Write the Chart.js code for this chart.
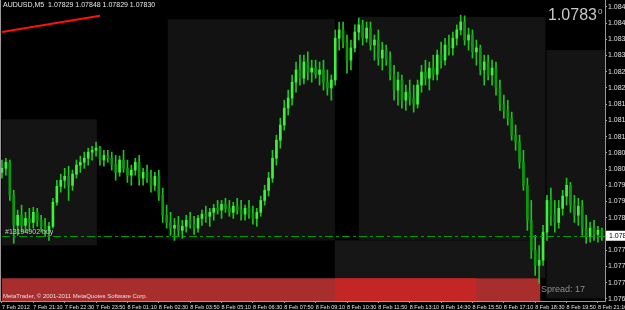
<!DOCTYPE html>
<html lang="en">
<head>
<meta charset="UTF-8">
<title>AUDUSD,M5</title>
<style>
    body {
        margin: 0;
        background: #000;
    }

    #wrap {
        width: 625px;
        height: 310px;
        position: relative;
    }
</style>
</head>
<body>
<div id="wrap"><canvas id="chart"></canvas></div>
<script src="https://cdn.jsdelivr.net/npm/chart.js"></script>
<script>
    const headerText = "AUDUSD,M5  1.07829 1.07848 1.07829 1.07830";
    const bidText = "1.0783";
    const copyrightText = "MetaTrader, \u00a9 2001-2011 MetaQuotes Software Corp.";
    const spreadText = "Spread: 17";
    const orderText = "#13194902 buy";

    // M10-style bars (bar index = position on the time axis)
    const opens = [
        1.08006, 1.08017, 1.08034, 1.07942, 1.07859, 1.07887, 1.07859, 1.07878, 1.07867, 1.07895,
        1.07873, 1.07856, 1.07845, 1.07856, 1.07923, 1.07967, 1.07984, 1.07995, 1.07970, 1.08001,
        1.08026, 1.08034, 1.08045, 1.08062, 1.08067, 1.08073, 1.08040, 1.08053, 1.08045, 1.08028,
        1.08006, 1.08040, 1.08017, 1.07998, 1.08012, 1.08034, 1.07990, 1.08006, 1.07990, 1.07970,
        1.07995, 1.07942, 1.07887, 1.07867, 1.07851, 1.07859, 1.07845, 1.07856, 1.07873, 1.07862,
        1.07851, 1.07878, 1.07890, 1.07884, 1.07895, 1.07906, 1.07901, 1.07917, 1.07906, 1.07895,
        1.07912, 1.07901, 1.07890, 1.07906, 1.07890, 1.07878, 1.07895, 1.07928, 1.07956, 1.07990,
        1.08045, 1.08095, 1.08137, 1.08184, 1.08212, 1.08256, 1.08290, 1.08267, 1.08312, 1.08284,
        1.08295, 1.08278, 1.08290, 1.08256, 1.08240, 1.08262, 1.08378, 1.08401, 1.08367, 1.08317,
        1.08351, 1.08395, 1.08415, 1.08378, 1.08406, 1.08359, 1.08373, 1.08323, 1.08345, 1.08317,
        1.08276, 1.08234, 1.08262, 1.08206, 1.08228, 1.08212, 1.08195, 1.08248, 1.08284, 1.08267,
        1.08295, 1.08278, 1.08331, 1.08317, 1.08359, 1.08351, 1.08378, 1.08401, 1.08423, 1.08373,
        1.08387, 1.08340, 1.08351, 1.08290, 1.08312, 1.08276, 1.08295, 1.08240, 1.08195, 1.08178,
        1.08156, 1.08109, 1.08090, 1.08034, 1.07970, 1.07873, 1.07790, 1.07748, 1.07762, 1.07840,
        1.07928, 1.07887, 1.07867, 1.07906, 1.07940, 1.07970, 1.07915, 1.07887, 1.07912, 1.07851,
        1.07828, 1.07851, 1.07834, 1.07845
    ];
    const highs = [
        1.08040, 1.08045, 1.08040, 1.07956, 1.07901, 1.07915, 1.07895, 1.07906, 1.07909, 1.07906,
        1.07887, 1.07878, 1.07867, 1.07934, 1.07984, 1.08001, 1.08017, 1.08023, 1.08012, 1.08040,
        1.08051, 1.08062, 1.08073, 1.08078, 1.08090, 1.08078, 1.08067, 1.08067, 1.08062, 1.08053,
        1.08051, 1.08067, 1.08040, 1.08026, 1.08045, 1.08053, 1.08017, 1.08026, 1.08012, 1.08006,
        1.08012, 1.07962, 1.07915, 1.07895, 1.07878, 1.07884, 1.07873, 1.07887, 1.07895, 1.07884,
        1.07887, 1.07901, 1.07912, 1.07906, 1.07917, 1.07928, 1.07928, 1.07934, 1.07928, 1.07923,
        1.07934, 1.07928, 1.07915, 1.07928, 1.07912, 1.07906, 1.07940, 1.07970, 1.08006, 1.08067,
        1.08109, 1.08156, 1.08206, 1.08234, 1.08276, 1.08312, 1.08331, 1.08331, 1.08340, 1.08317,
        1.08317, 1.08312, 1.08317, 1.08290, 1.08276, 1.08401, 1.08423, 1.08423, 1.08387, 1.08373,
        1.08415, 1.08434, 1.08428, 1.08423, 1.08423, 1.08387, 1.08401, 1.08367, 1.08359, 1.08340,
        1.08303, 1.08284, 1.08276, 1.08248, 1.08262, 1.08248, 1.08262, 1.08303, 1.08317, 1.08312,
        1.08331, 1.08345, 1.08367, 1.08378, 1.08387, 1.08395, 1.08415, 1.08442, 1.08440, 1.08406,
        1.08401, 1.08373, 1.08359, 1.08331, 1.08331, 1.08317, 1.08312, 1.08262, 1.08220, 1.08206,
        1.08173, 1.08137, 1.08109, 1.08067, 1.07990, 1.07928, 1.07831, 1.07803, 1.07859, 1.07942,
        1.07962, 1.07928, 1.07928, 1.07956, 1.07990, 1.07978, 1.07942, 1.07934, 1.07928, 1.07887,
        1.07867, 1.07873, 1.07856, 1.07851
    ];
    const lows = [
        1.07990, 1.07998, 1.07928, 1.07809, 1.07831, 1.07840, 1.07840, 1.07845, 1.07851, 1.07856,
        1.07840, 1.07828, 1.07817, 1.07851, 1.07915, 1.07951, 1.07962, 1.07928, 1.07956, 1.07990,
        1.08006, 1.08017, 1.08026, 1.08040, 1.08051, 1.08026, 1.08023, 1.08034, 1.08012, 1.07984,
        1.07995, 1.08006, 1.07978, 1.07970, 1.07998, 1.07970, 1.07970, 1.07978, 1.07951, 1.07956,
        1.07928, 1.07867, 1.07851, 1.07831, 1.07817, 1.07828, 1.07823, 1.07840, 1.07851, 1.07834,
        1.07840, 1.07859, 1.07867, 1.07856, 1.07873, 1.07890, 1.07878, 1.07895, 1.07884, 1.07878,
        1.07890, 1.07873, 1.07873, 1.07878, 1.07862, 1.07856, 1.07884, 1.07915, 1.07940, 1.07978,
        1.08026, 1.08073, 1.08123, 1.08165, 1.08192, 1.08228, 1.08248, 1.08251, 1.08262, 1.08256,
        1.08267, 1.08248, 1.08234, 1.08220, 1.08206, 1.08248, 1.08345, 1.08351, 1.08281, 1.08290,
        1.08340, 1.08373, 1.08359, 1.08367, 1.08345, 1.08317, 1.08303, 1.08290, 1.08303, 1.08262,
        1.08206, 1.08192, 1.08184, 1.08178, 1.08192, 1.08173, 1.08184, 1.08228, 1.08248, 1.08234,
        1.08262, 1.08262, 1.08295, 1.08303, 1.08331, 1.08331, 1.08359, 1.08387, 1.08359, 1.08345,
        1.08323, 1.08303, 1.08276, 1.08248, 1.08262, 1.08248, 1.08220, 1.08178, 1.08156, 1.08137,
        1.08095, 1.08067, 1.08017, 1.07956, 1.07845, 1.07767, 1.07720, 1.07698, 1.07748, 1.07817,
        1.07859, 1.07840, 1.07851, 1.07887, 1.07915, 1.07895, 1.07867, 1.07859, 1.07831, 1.07809,
        1.07812, 1.07817, 1.07812, 1.07817
    ];
    const closes = [
        1.08017, 1.08034, 1.07942, 1.07859, 1.07887, 1.07859, 1.07878, 1.07867, 1.07895, 1.07873,
        1.07856, 1.07845, 1.07856, 1.07923, 1.07967, 1.07984, 1.07995, 1.07970, 1.08001, 1.08026,
        1.08034, 1.08045, 1.08062, 1.08067, 1.08073, 1.08040, 1.08053, 1.08045, 1.08028, 1.08006,
        1.08040, 1.08017, 1.07998, 1.08012, 1.08034, 1.07990, 1.08006, 1.07990, 1.07970, 1.07995,
        1.07942, 1.07887, 1.07867, 1.07851, 1.07859, 1.07845, 1.07856, 1.07873, 1.07862, 1.07851,
        1.07878, 1.07890, 1.07884, 1.07895, 1.07906, 1.07901, 1.07917, 1.07906, 1.07895, 1.07912,
        1.07901, 1.07890, 1.07906, 1.07890, 1.07878, 1.07895, 1.07928, 1.07956, 1.07990, 1.08045,
        1.08095, 1.08137, 1.08184, 1.08212, 1.08256, 1.08290, 1.08267, 1.08312, 1.08284, 1.08295,
        1.08278, 1.08290, 1.08256, 1.08240, 1.08262, 1.08378, 1.08401, 1.08367, 1.08317, 1.08351,
        1.08395, 1.08415, 1.08378, 1.08406, 1.08359, 1.08373, 1.08323, 1.08345, 1.08317, 1.08276,
        1.08234, 1.08262, 1.08206, 1.08228, 1.08212, 1.08195, 1.08248, 1.08284, 1.08267, 1.08295,
        1.08278, 1.08331, 1.08317, 1.08359, 1.08351, 1.08378, 1.08401, 1.08423, 1.08373, 1.08387,
        1.08340, 1.08351, 1.08290, 1.08312, 1.08276, 1.08295, 1.08240, 1.08195, 1.08178, 1.08156,
        1.08109, 1.08090, 1.08034, 1.07970, 1.07873, 1.07790, 1.07748, 1.07762, 1.07840, 1.07928,
        1.07887, 1.07867, 1.07906, 1.07940, 1.07970, 1.07915, 1.07887, 1.07912, 1.07851, 1.07828,
        1.07851, 1.07834, 1.07845, 1.07830
    ];

    const priceTicks = [
        1.07655, 1.07700, 1.07745, 1.07790, 1.07835, 1.07880, 1.07925, 1.07970, 1.08015, 1.08060,
        1.08105, 1.08150, 1.08195, 1.08240, 1.08285, 1.08330, 1.08375, 1.08420, 1.08465
    ];
    const timeTickBars = [0, 8, 16, 24, 32, 40, 48, 56, 64, 72, 80, 88, 96, 104, 112, 120, 128, 136, 144, 152];
    const timeLabels = [
        "7 Feb 2012", "7 Feb 21:10", "7 Feb 22:30", "7 Feb 23:50", "8 Feb 01:10", "8 Feb 02:30",
        "8 Feb 03:50", "8 Feb 05:10", "8 Feb 06:30", "8 Feb 07:50", "8 Feb 09:10", "8 Feb 10:30",
        "8 Feb 11:50", "8 Feb 13:10", "8 Feb 14:30", "8 Feb 15:50", "8 Feb 17:10", "8 Feb 18:30",
        "8 Feb 19:50", "8 Feb 21:10"
    ];

    const trendBars = [0, 25];
    const trendPrices = [1.08395, 1.08440];
    const orderPrice = 1.07828;
    const bidPrice = 1.07830;

    // session boxes: from bar, to bar, top price, bottom price
    const boxFrom = [0, 42.3, 91.0, 84.9, 138.9, 0, 84.9];
    const boxTo = [24.2, 84.9, 138.6, 138.6, 155, 137.3, 121.0];
    const boxTop = [1.08153, 1.08431, 1.08437, 1.07817, 1.08345, 1.07712, 1.07712];
    const boxBottom = [1.07803, 1.07817, 1.07817, 1.07712, 1.07656, 1.07600, 1.07600];
    const boxColors = ['#141414', '#121212', '#141414', '#161616', '#141414', '#a82d2d', '#c42626'];

    const axisFont = { family: '"Liberation Sans"', size: 7 };
    const timeFont = { family: '"Liberation Sans"', size: 5.5 };

    const backdrop = {
        id: 'backdrop',
        beforeDatasetsDraw(chart) {
            const { ctx, chartArea: a, scales: { x, y } } = chart;
            ctx.save();
            ctx.beginPath();
            ctx.rect(a.left, a.top, a.right - a.left, a.bottom - a.top);
            ctx.clip();
            for (let i = 0; i < boxFrom.length; i++) {
                const x0 = x.getPixelForValue(boxFrom[i]);
                const x1 = x.getPixelForValue(boxTo[i]);
                const y0 = y.getPixelForValue(boxTop[i]);
                const y1 = y.getPixelForValue(boxBottom[i]);
                ctx.fillStyle = boxColors[i];
                ctx.fillRect(x0, y0, x1 - x0, y1 - y0);
            }
            ctx.restore();
        },
        afterDraw(chart) {
            const { ctx, chartArea: a, scales: { y } } = chart;
            ctx.save();
            // left frame line
            ctx.strokeStyle = '#9a9a9a';
            ctx.lineWidth = 1;
            ctx.beginPath();
            ctx.moveTo(a.left + 0.5, a.top);
            ctx.lineTo(a.left + 0.5, a.bottom);
            ctx.stroke();

            ctx.textBaseline = 'top';
            ctx.textAlign = 'left';
            ctx.fillStyle = '#e8e8e8';
            ctx.font = '7px "Liberation Sans"';
            ctx.fillText(headerText, a.left + 3, 2);

            ctx.fillStyle = '#c8c8c8';
            ctx.font = '16px "Liberation Sans"';
            ctx.fillText(bidText, 548, 8);
            ctx.font = '8px "Liberation Sans"';
            ctx.fillText('0', 598, 8);

            ctx.fillStyle = '#8c8c8c';
            ctx.font = '9px "Liberation Sans"';
            ctx.textBaseline = 'middle';
            ctx.fillText(spreadText, 541, 290);

            ctx.fillStyle = '#e0e0e0';
            ctx.font = '6px "Liberation Sans"';
            ctx.fillText(copyrightText, a.left + 3, 296);

            const yo = y.getPixelForValue(orderPrice);
            ctx.fillStyle = '#c8c8c8';
            ctx.font = '7px "Liberation Sans"';
            ctx.textBaseline = 'bottom';
            ctx.fillText(orderText, a.left + 5, yo - 1);

            // bid marker on the price axis
            const yb = y.getPixelForValue(bidPrice);
            ctx.fillStyle = '#ffffff';
            ctx.fillRect(a.right + 1, yb - 5, 24, 10);
            ctx.fillStyle = '#000';
            ctx.font = '7px "Liberation Sans"';
            ctx.textBaseline = 'middle';
            ctx.fillText(bidPrice.toFixed(5), a.right + 4, yb);
            ctx.restore();
        }
    };

    const wicks = closes.map((c, i) => ({ x: i, y: [lows[i], highs[i]] }));
    const bodies = closes.map((c, i) => ({ x: i, y: [opens[i], c] }));

    new Chart(document.getElementById('chart'), {
        type: 'bar',
        data: {
            datasets: [
                {
                    type: 'line',
                    data: trendBars.map((b, i) => ({ x: b, y: trendPrices[i] })),
                    borderColor: '#ff1010',
                    borderWidth: 2,
                    pointRadius: 0
                },
                {
                    type: 'line',
                    data: [{ x: 0, y: orderPrice }, { x: 153.8, y: orderPrice }],
                    borderColor: '#00a000',
                    borderWidth: 1,
                    borderDash: [8, 3, 3, 3],
                    pointRadius: 0
                },
                {
                    data: bodies,
                    grouped: false,
                    barThickness: 2,
                    backgroundColor: ctx => {
                        const i = ctx.dataIndex;
                        return closes[i] >= opens[i] ? '#3cf03c' : '#0b9a0b';
                    }
                },
                {
                    data: wicks,
                    grouped: false,
                    barThickness: 1,
                    backgroundColor: '#1fc41f'
                }
            ]
        },
        options: {
            responsive: true,
            maintainAspectRatio: false,
            animation: false,
            layout: { padding: 0 },
            plugins: {
                legend: { display: false },
                tooltip: { enabled: false }
            },
            scales: {
                x: {
                    type: 'linear',
                    offset: false,
                    min: -0.5,
                    max: 153.8,
                    grid: { drawOnChartArea: false, offset: false, color: '#9a9a9a', tickLength: 2 },
                    border: { color: '#9a9a9a' },
                    ticks: {
                        color: '#e0e0e0',
                        font: timeFont,
                        align: 'start',
                        padding: 1,
                        maxRotation: 0,
                        minRotation: 0,
                        autoSkip: false,
                        callback: (v, i) => timeLabels[i]
                    },
                    afterBuildTicks: s => { s.ticks = timeTickBars.map(v => ({ value: v })); },
                    afterFit: s => { s.height = 9; s.paddingLeft = 0; s.paddingRight = 0; }
                },
                y: {
                    position: 'right',
                    min: 1.07649,
                    max: 1.08484,
                    grid: { drawOnChartArea: false, color: '#9a9a9a', tickLength: 2 },
                    border: { color: '#9a9a9a' },
                    ticks: {
                        color: '#e0e0e0',
                        font: axisFont,
                        padding: 1,
                        callback: v => v.toFixed(5)
                    },
                    afterBuildTicks: s => { s.ticks = priceTicks.map(v => ({ value: v })); },
                    afterFit: s => { s.width = 20; s.paddingTop = 0; s.paddingBottom = 0; }
                }
            }
        },
        plugins: [backdrop]
    });
</script>
</body>
</html>
